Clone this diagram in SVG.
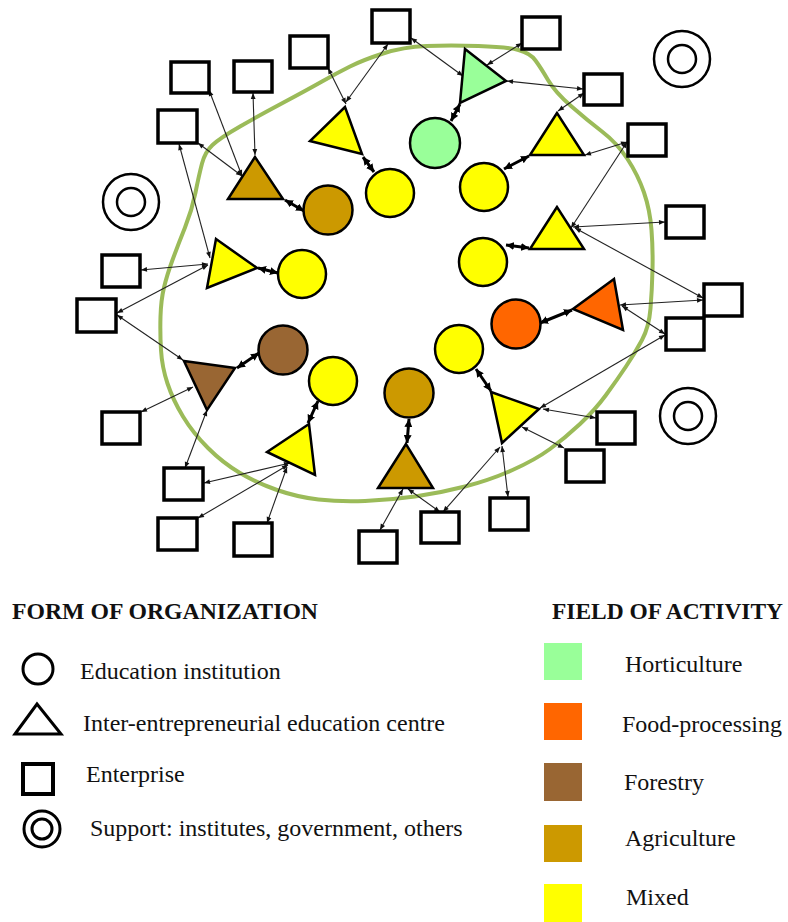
<svg xmlns="http://www.w3.org/2000/svg" width="788" height="922" viewBox="0 0 788 922">
<style>
.box{fill:#fff;stroke:#000;stroke-width:3.5}
.node{stroke:#000;stroke-width:2.5}
.sup{fill:none;stroke:#000;stroke-width:2.5}
.thin{stroke:#222;stroke-width:1.1;fill:none;marker-start:url(#a);marker-end:url(#a)}
.thick{stroke:#000;stroke-width:3;fill:none;marker-start:url(#b);marker-end:url(#b)}
.y{fill:#FFFF00}.g{fill:#99FF99}.o{fill:#FF6600}.f{fill:#996633}.ag{fill:#CC9900}
.t{font-family:"Liberation Serif","Times New Roman",serif;font-size:24px;fill:#111}
.h{font-family:"Liberation Serif","Times New Roman",serif;font-size:23.5px;font-weight:bold;fill:#111}
</style>
<defs>
<marker id="a" viewBox="0 0 10 10" refX="10" refY="5" markerWidth="7" markerHeight="6" markerUnits="userSpaceOnUse" orient="auto-start-reverse"><path d="M0,1 L10,5 L0,9 z" fill="#111"/></marker>
<marker id="b" viewBox="0 0 10 10" refX="10" refY="5" markerWidth="8" markerHeight="8" markerUnits="userSpaceOnUse" orient="auto-start-reverse"><path d="M0,0 L10,5 L0,10 z" fill="#000"/></marker>
</defs>
<rect width="788" height="922" fill="#fff"/>

<g id="boundary">
<path d="M426.5,46 Q450,45 478.5,46 Q507,47 518.5,50 Q530,53 535.5,60.5 Q541,68 548,80 Q555,92 571,106 Q587,120 602,131.5 Q617,143 627.5,159 Q638,175 644,192.5 Q650,210 651.5,230 Q653,250 652.5,270 Q652,290 650.5,308.5 Q649,327 642,340 Q635,353 626,366.5 Q617,380 606,395 Q595,410 580,424 Q565,438 550,449 Q535,460 512.5,470 Q490,480 465,486.5 Q440,493 415,496.5 Q390,500 365,501 Q340,502 318.5,499.5 Q297,497 277,490 Q257,483 240,473 Q223,463 208,448 Q193,433 183,416.5 Q173,400 167.5,383.5 Q162,367 161,350 Q160,333 160.5,316.5 Q161,300 164,287.5 Q167,275 172.5,260 Q178,245 185,227.5 Q192,210 195.5,192.5 Q199,175 202,163.5 Q205,152 212.5,145 Q220,138 240,126.5 Q260,115 283.5,102.5 Q307,90 322,81.5 Q337,73 350,66.5 Q363,60 383,53.5 Q403,47 426.5,46 Z" fill="none" stroke="#9BBB59" stroke-width="4"/>
</g>

<g id="connectors">
<line class="thin" x1="209" y1="90" x2="242" y2="176"/>
<line class="thin" x1="253" y1="93" x2="255" y2="155"/>
<line class="thin" x1="198" y1="143" x2="242" y2="176"/>
<line class="thin" x1="179" y1="144" x2="210" y2="258"/>
<line class="thin" x1="328" y1="68" x2="346" y2="104"/>
<line class="thin" x1="388" y1="44" x2="346" y2="102"/>
<line class="thin" x1="411" y1="38" x2="463" y2="76"/>
<line class="thin" x1="522" y1="43" x2="487" y2="65"/>
<line class="thin" x1="583" y1="89" x2="507" y2="81"/>
<line class="thin" x1="584" y1="93" x2="558" y2="111"/>
<line class="thin" x1="627" y1="142" x2="585" y2="155"/>
<line class="thin" x1="627" y1="142" x2="571" y2="228"/>
<line class="thin" x1="573" y1="227" x2="665" y2="222"/>
<line class="thin" x1="575" y1="228" x2="703" y2="298"/>
<line class="thin" x1="703" y1="300" x2="620" y2="305"/>
<line class="thin" x1="622" y1="306" x2="665" y2="334"/>
<line class="thin" x1="665" y1="335" x2="540" y2="408"/>
<line class="thin" x1="543" y1="409" x2="596" y2="418"/>
<line class="thin" x1="522" y1="427" x2="564" y2="448"/>
<line class="thin" x1="502" y1="446" x2="508" y2="497"/>
<line class="thin" x1="500" y1="447" x2="443" y2="512"/>
<line class="thin" x1="408" y1="489" x2="440" y2="512"/>
<line class="thin" x1="403" y1="489" x2="380" y2="530"/>
<line class="thin" x1="290" y1="463" x2="204" y2="483"/>
<line class="thin" x1="288" y1="465" x2="198" y2="518"/>
<line class="thin" x1="287" y1="467" x2="267" y2="523"/>
<line class="thin" x1="207" y1="410" x2="185" y2="468"/>
<line class="thin" x1="193" y1="387" x2="141" y2="412"/>
<line class="thin" x1="117" y1="315" x2="183" y2="360"/>
<line class="thin" x1="117" y1="313" x2="208" y2="265"/>
<line class="thin" x1="141" y1="270" x2="208" y2="264"/>

<line class="thick" x1="285" y1="200" x2="304" y2="211"/>
<line class="thick" x1="363" y1="157" x2="374" y2="172"/>
<line class="thick" x1="460" y1="104" x2="451" y2="121"/>
<line class="thick" x1="529" y1="156" x2="504" y2="169"/>
<line class="thick" x1="529" y1="248" x2="506" y2="245"/>
<line class="thick" x1="572" y1="310" x2="540" y2="323"/>
<line class="thick" x1="491" y1="391" x2="476" y2="369"/>
<line class="thick" x1="409" y1="419" x2="407" y2="443"/>
<line class="thick" x1="308" y1="423" x2="318" y2="401"/>
<line class="thick" x1="237" y1="368" x2="259" y2="353"/>
<line class="thick" x1="258" y1="268" x2="278" y2="273"/>
</g>

<g id="edu1"><circle class="node ag" cx="328" cy="210" r="24.5"/></g>
<g id="edu2"><circle class="node y" cx="390" cy="193" r="24"/></g>
<g id="edu3"><circle class="node g" cx="435" cy="143" r="25"/></g>
<g id="edu4"><circle class="node y" cx="484" cy="187" r="24"/></g>
<g id="edu5"><circle class="node y" cx="483" cy="262" r="24"/></g>
<g id="edu6"><circle class="node o" cx="516" cy="324" r="24.5"/></g>
<g id="edu7"><circle class="node y" cx="459" cy="349" r="24"/></g>
<g id="edu8"><circle class="node ag" cx="409" cy="393" r="24.5"/></g>
<g id="edu9"><circle class="node y" cx="333" cy="381" r="24"/></g>
<g id="edu10"><circle class="node f" cx="283" cy="350" r="24.5"/></g>
<g id="edu11"><circle class="node y" cx="302" cy="274" r="24"/></g>

<g id="centre1"><polygon class="node ag" points="255,157 228,199 283,199"/></g>
<g id="centre2"><polygon class="node y" points="345,107 310,141 362,154"/></g>
<g id="centre3"><polygon class="node g" points="465,49 506,81 460,103"/></g>
<g id="centre4"><polygon class="node y" points="557,113 530,155 584,155"/></g>
<g id="centre5"><polygon class="node y" points="557,207 530,249 584,249"/></g>
<g id="centre6"><polygon class="node o" points="614,279 573,309 623,330"/></g>
<g id="centre7"><polygon class="node y" points="491,392 539,409 502,443"/></g>
<g id="centre8"><polygon class="node ag" points="406,444 378,488 433,488"/></g>
<g id="centre9"><polygon class="node y" points="309,424 267,452 315,475"/></g>
<g id="centre10"><polygon class="node f" points="184,361 235,368 207,410"/></g>
<g id="centre11"><polygon class="node y" points="216,239 257,268 207,288"/></g>

<g id="ent1"><rect class="box" x="171" y="62" width="38" height="31"/></g>
<g id="ent2"><rect class="box" x="234" y="61" width="38" height="31"/></g>
<g id="ent3"><rect class="box" x="290" y="36" width="38" height="32"/></g>
<g id="ent4"><rect class="box" x="372" y="10" width="38" height="33"/></g>
<g id="ent5"><rect class="box" x="158" y="110" width="39" height="33"/></g>
<g id="ent6"><rect class="box" x="522" y="17" width="38" height="32"/></g>
<g id="ent7"><rect class="box" x="584" y="74" width="38" height="31"/></g>
<g id="ent8"><rect class="box" x="628" y="124" width="38" height="32"/></g>
<g id="ent9"><rect class="box" x="666" y="206" width="38" height="32"/></g>
<g id="ent10"><rect class="box" x="704" y="284" width="38" height="32"/></g>
<g id="ent11"><rect class="box" x="666" y="318" width="38" height="32"/></g>
<g id="ent12"><rect class="box" x="597" y="412" width="38" height="32"/></g>
<g id="ent13"><rect class="box" x="566" y="450" width="38" height="32"/></g>
<g id="ent14"><rect class="box" x="490" y="498" width="38" height="32"/></g>
<g id="ent15"><rect class="box" x="421" y="512" width="38" height="31"/></g>
<g id="ent16"><rect class="box" x="359" y="531" width="38" height="32"/></g>
<g id="ent17"><rect class="box" x="234" y="523" width="38" height="33"/></g>
<g id="ent18"><rect class="box" x="158" y="518" width="39" height="32"/></g>
<g id="ent19"><rect class="box" x="164" y="468" width="39" height="32"/></g>
<g id="ent20"><rect class="box" x="102" y="412" width="38" height="32"/></g>
<g id="ent21"><rect class="box" x="77" y="299" width="39" height="33"/></g>
<g id="ent22"><rect class="box" x="102" y="255" width="38" height="32"/></g>

<g id="support1"><circle class="sup" cx="131" cy="202" r="28"/><circle class="sup" cx="131" cy="202" r="14"/></g>
<g id="support2"><circle class="sup" cx="682" cy="59" r="28"/><circle class="sup" cx="682" cy="59" r="14"/></g>
<g id="support3"><circle class="sup" cx="688" cy="416" r="28"/><circle class="sup" cx="688" cy="416" r="14"/></g>

<g id="legend-form">
<text class="h" x="12" y="619" textLength="306" lengthAdjust="spacingAndGlyphs">FORM OF ORGANIZATION</text>
<circle cx="38" cy="669" r="15" fill="#fff" stroke="#000" stroke-width="3"/>
<text class="t" x="80" y="679">Education institution</text>
<polygon points="15,734 37,704 61,734" fill="#fff" stroke="#000" stroke-width="3"/>
<text class="t" x="83" y="731">Inter-entrepreneurial education centre</text>
<rect x="23" y="764" width="30" height="30" fill="#fff" stroke="#000" stroke-width="4"/>
<text class="t" x="86" y="782">Enterprise</text>
<circle cx="42" cy="829" r="18" fill="none" stroke="#000" stroke-width="3"/>
<circle cx="42" cy="829" r="10" fill="none" stroke="#000" stroke-width="3"/>
<text class="t" x="90" y="836">Support: institutes, government, others</text>
</g>

<g id="legend-field">
<text class="h" x="552" y="619" textLength="231" lengthAdjust="spacingAndGlyphs">FIELD OF ACTIVITY</text>
<rect x="544" y="643" width="38" height="37" fill="#99FF99"/>
<text class="t" x="625" y="672">Horticulture</text>
<rect x="544" y="703" width="38" height="37" fill="#FF6600"/>
<text class="t" x="622" y="732">Food-processing</text>
<rect x="544" y="763" width="38" height="38" fill="#996633"/>
<text class="t" x="624" y="790">Forestry</text>
<rect x="544" y="825" width="38" height="37" fill="#CC9900"/>
<text class="t" x="625" y="846">Agriculture</text>
<rect x="544" y="884" width="38" height="38" fill="#FFFF00"/>
<text class="t" x="626" y="905">Mixed</text>
</g>
</svg>
